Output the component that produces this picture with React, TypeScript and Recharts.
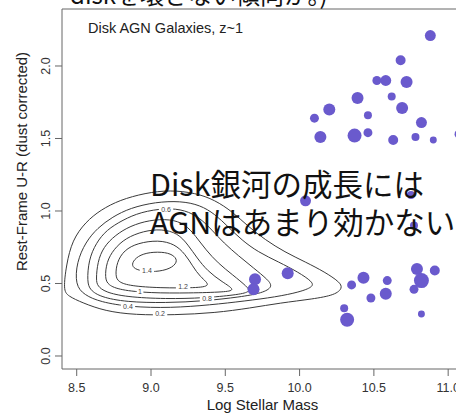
import React from 'react';
import { ScatterChart, Scatter, XAxis, YAxis, ZAxis, ReferenceLine } from 'recharts';

const FONT = '"Liberation Sans", Arial, Helvetica, sans-serif';
const JP_FONT = '"Noto Sans CJK JP", "Noto Sans", sans-serif';

const xTicks = [8.5, 9.0, 9.5, 10.0, 10.5, 11.0];
const yTicks = [0.0, 0.5, 1.0, 1.5, 2.0];
const xDomain: [number, number] = [8.401, 11.12];
const yDomain: [number, number] = [-0.0897, 2.3931];

// AGN host galaxies: stellar mass, U-R colour, marker size (area weight)
const agnMass = [10.88, 10.68, 10.52, 10.58, 10.72, 10.39, 10.62, 10.2, 10.1, 10.46, 10.69, 10.82, 10.14, 10.37, 10.46, 10.63, 10.78, 10.9, 11.07,
  10.04, 10.75, 10.77, 9.92, 10.43, 10.35, 10.59, 10.58, 10.48, 10.79, 10.91, 10.82, 10.77, 10.3, 10.32, 10.82, 9.7, 9.69];
const agnColor = [2.21, 2.04, 1.9, 1.9, 1.89, 1.78, 1.79, 1.7, 1.64, 1.66, 1.71, 1.61, 1.51, 1.52, 1.54, 1.49, 1.51, 1.49, 1.53,
  1.07, 1.11, 0.9, 0.57, 0.54, 0.49, 0.52, 0.43, 0.4, 0.6, 0.59, 0.52, 0.46, 0.33, 0.25, 0.29, 0.53, 0.46];
const agnSize = [30, 25, 20, 30, 36, 36, 16, 36, 20, 16, 36, 30, 36, 49, 20, 25, 16, 12, 16,
  30, 16, 16, 36, 36, 20, 20, 36, 20, 36, 25, 56, 20, 16, 49, 12, 36, 36];

// density contours of the comparison disk sample
const contour02 = [[8.41, 0.455], [8.43, 0.628], [8.47, 0.8], [8.56, 0.924], [8.66, 1.007], [8.79, 1.076], [8.96, 1.124], [9.13, 1.145], [9.3, 1.124], [9.43, 1.076], [9.55, 0.993], [9.65, 0.897], [9.77, 0.8], [9.9, 0.717], [10.04, 0.648], [10.17, 0.579], [10.27, 0.51], [10.29, 0.469], [10.24, 0.421], [10.09, 0.393], [9.87, 0.366], [9.67, 0.331], [9.43, 0.297], [9.16, 0.283], [8.89, 0.283], [8.69, 0.31], [8.54, 0.366], [8.44, 0.414]];
const contour04 = [[8.49, 0.49], [8.5, 0.648], [8.56, 0.786], [8.64, 0.883], [8.74, 0.959], [8.86, 1.021], [9.03, 1.062], [9.2, 1.069], [9.33, 1.041], [9.43, 0.979], [9.52, 0.89], [9.61, 0.8], [9.72, 0.717], [9.86, 0.648], [9.99, 0.579], [10.09, 0.51], [10.09, 0.476], [10.0, 0.441], [9.84, 0.407], [9.63, 0.379], [9.4, 0.352], [9.13, 0.331], [8.86, 0.338], [8.66, 0.372], [8.55, 0.421]];
const contour06 = [[8.57, 0.51], [8.58, 0.662], [8.63, 0.779], [8.7, 0.869], [8.81, 0.938], [8.93, 0.993], [9.1, 1.021], [9.23, 1.007], [9.33, 0.952], [9.41, 0.869], [9.49, 0.779], [9.59, 0.69], [9.69, 0.607], [9.79, 0.524], [9.82, 0.476], [9.75, 0.434], [9.6, 0.407], [9.36, 0.379], [9.1, 0.366], [8.83, 0.372], [8.66, 0.407], [8.59, 0.455]];
const contour08 = [[8.63, 0.524], [8.64, 0.648], [8.68, 0.752], [8.76, 0.834], [8.86, 0.897], [8.99, 0.938], [9.13, 0.945], [9.23, 0.91], [9.3, 0.828], [9.37, 0.731], [9.45, 0.641], [9.55, 0.559], [9.65, 0.476], [9.67, 0.441], [9.57, 0.421], [9.36, 0.4], [9.1, 0.393], [8.83, 0.407], [8.69, 0.441], [8.64, 0.483]];
const contour10 = [[8.69, 0.538], [8.7, 0.648], [8.75, 0.738], [8.83, 0.814], [8.95, 0.862], [9.07, 0.876], [9.18, 0.848], [9.25, 0.766], [9.31, 0.676], [9.38, 0.586], [9.48, 0.51], [9.57, 0.455], [9.5, 0.441], [9.26, 0.434], [8.99, 0.434], [8.79, 0.455], [8.71, 0.49]];
const contour12 = [[8.76, 0.552], [8.77, 0.648], [8.82, 0.731], [8.91, 0.779], [9.05, 0.8], [9.16, 0.772], [9.23, 0.703], [9.28, 0.621], [9.33, 0.545], [9.41, 0.483], [9.3, 0.469], [9.06, 0.469], [8.86, 0.483], [8.78, 0.51]];
const contour14 = [[8.87, 0.641], [8.91, 0.69], [8.99, 0.717], [9.1, 0.717], [9.16, 0.69], [9.18, 0.648], [9.13, 0.6], [9.03, 0.579], [8.93, 0.586], [8.88, 0.607]];
const contours = [contour02, contour04, contour06, contour08, contour10, contour12, contour14];

const contourLabelText = ['0.2', '0.4', '0.6', '0.8', '1', '1.2', '1.4'];
const contourLabelX = [9.061, 8.845, 9.101, 9.377, 8.926, 9.216, 8.973];
const contourLabelY = [0.29, 0.338, 1.007, 0.393, 0.441, 0.476, 0.586];

const agnData = agnMass.map((x, i) => ({ x, y: agnColor[i], z: agnSize[i] }));
const contourData = contours.map((c) => c.map(([x, y]) => ({ x, y })));
const labelData = contourLabelText.map((label, i) => ({ x: contourLabelX[i], y: contourLabelY[i], label }));

const NoShape = () => <g />;

const LabelShape = (props: any) => {
  const { cx, cy, payload } = props;
  const w = payload.label.length * 3.8 + 3;
  return (
    <g>
      <rect x={cx - w / 2} y={cy - 3.5} width={w} height={7} fill="#ffffff" />
      <text x={cx} y={cy} dy="0.35em" textAnchor="middle" fontSize={7} fill="#444" fontFamily={FONT}>
        {payload.label}
      </text>
    </g>
  );
};

const YTick = (props: any) => {
  const { x, y, payload } = props;
  return (
    <text x={x} y={y} transform={`rotate(-90, ${x}, ${y})`} textAnchor="middle" fill="#333" fontSize={12.5} fontFamily={FONT}>
      {Number(payload.value).toFixed(1)}
    </text>
  );
};

export default function App() {
  return (
    <div style={{ position: 'absolute', left: 0, top: 0, width: 456, height: 414, overflow: 'hidden', background: '#fff' }}>
      <ScatterChart width={466} height={414} margin={{ top: 9, right: 0, bottom: 0, left: 0 }}>
        <XAxis
          type="number"
          dataKey="x"
          domain={xDomain}
          ticks={xTicks}
          allowDataOverflow
          tickFormatter={(v: number) => v.toFixed(1)}
          tickSize={7}
          tickMargin={7}
          height={45}
          stroke="#666"
          tick={{ fill: '#333', fontSize: 12.5, fontFamily: FONT }}
        />
        <YAxis
          type="number"
          dataKey="y"
          domain={yDomain}
          ticks={yTicks}
          allowDataOverflow
          tickSize={7}
          tickMargin={5}
          width={62}
          stroke="#666"
          tick={<YTick />}
        />
        <ZAxis type="number" dataKey="z" domain={[0, 64]} range={[0, 201]} />
        <ReferenceLine y={yDomain[1]} stroke="#666" />
        {contourData.map((d, i) => (
          <Scatter
            key={'c' + i}
            data={d}
            line={{ stroke: '#3a3a3a', strokeWidth: 1 }}
            lineType="joint"
            lineJointType="basisClosed"
            shape={<NoShape />}
            isAnimationActive={false}
          />
        ))}
        <Scatter data={labelData} shape={<LabelShape />} isAnimationActive={false} />
        <Scatter data={agnData} fill="#6a5acd" isAnimationActive={false} />
      </ScatterChart>
      <svg width={456} height={414} style={{ position: 'absolute', left: 0, top: 0, pointerEvents: 'none' }}>
        <text x={70} y={3.5} fontSize={24} fontFamily={JP_FONT} fill="#111">diskを壊さない傾向か。)</text>
        <text x={88} y={33} fontSize={14.5} fontFamily={FONT} fill="#222">Disk AGN Galaxies, z~1</text>
        <text transform="translate(27,161.5) rotate(-90)" textAnchor="middle" fontSize={15} fontFamily={FONT} fill="#222">
          Rest-Frame U-R (dust corrected)
        </text>
        <text x={262.5} y={410} textAnchor="middle" fontSize={15} fontFamily={FONT} fill="#222">Log Stellar Mass</text>
        <text x={150} y={196} fontSize={30.5} fontFamily={JP_FONT} fill="#111">Disk銀河の成長には</text>
        <text x={150} y={234} fontSize={30.5} fontFamily={JP_FONT} fill="#111">AGNはあまり効かない</text>
      </svg>
    </div>
  );
}
